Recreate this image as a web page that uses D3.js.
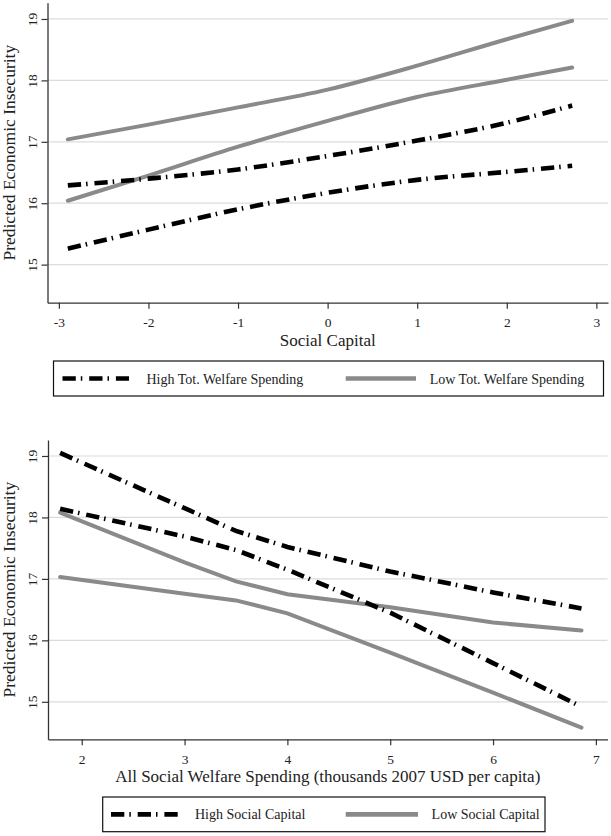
<!DOCTYPE html>
<html>
<head>
<meta charset="utf-8">
<script src="https://cdn.jsdelivr.net/npm/d3@7"></script>
<style>
  html, body { margin: 0; padding: 0; background: #fff; }
  svg { display: block; font-family: 'Liberation Serif', 'DejaVu Serif', serif; }
</style>
</head>
<body>
<svg id="chart"></svg>
<script>
// Panel 1: predicted insecurity by social capital
const socialCapital = [-2.9, -2, -1, 0, 1, 2, 2.73];
const highSpendA = [16.29, 16.40, 16.55, 16.77, 17.02, 17.31, 17.59];
const highSpendB = [15.26, 15.57, 15.90, 16.17, 16.38, 16.51, 16.61];
const lowSpendA = [17.04, 17.28, 17.56, 17.85, 18.24, 18.67, 18.97];
const lowSpendB = [16.04, 16.45, 16.92, 17.34, 17.73, 18.01, 18.21];
const capitalTicks = [-3, -2, -1, 0, 1, 2, 3];

// Panel 2: predicted insecurity by welfare spending
const welfareSpending = [1.79, 3, 3.5, 4, 5, 6, 6.86];
const highCapA = [19.05, 18.15, 17.78, 17.52, 17.12, 16.78, 16.52];
const highCapB = [18.14, 17.69, 17.47, 17.15, 16.45, 15.63, 14.92];
const lowCapA = [18.08, 17.27, 16.96, 16.75, 16.54, 16.29, 16.16];
const lowCapB = [17.03, 16.76, 16.65, 16.44, 15.80, 15.15, 14.58];
const spendingTicks = [2, 3, 4, 5, 6, 7];

const yTicks = [15, 16, 17, 18, 19];
const yTitle = 'Predicted Economic Insecurity';

const width = 611, height = 836;
const DASHDOT = '13.3,5,1.5,6.9';
const GRAY = '#8a8a8a';

const svg = d3.select('#chart')
  .attr('width', width)
  .attr('height', height)
  .attr('viewBox', [0, 0, width, height]);

svg.append('rect').attr('width', width).attr('height', height).attr('fill', '#fff');

// plain hyphen for negatives, like the original
const fmt = d => String(d);

function drawPanel({
  xs, black, gray, xTicks, xTitle, legend,
  left, right, top, bottom, xDomain, yDomain, curve, legendBox, legendKeys,
}) {
  const x = d3.scaleLinear(xDomain, [left, right]);
  const y = d3.scaleLinear(yDomain, [bottom, top]);
  const g = svg.append('g');

  // grid
  g.append('g')
    .selectAll('line')
    .data(yTicks)
    .join('line')
    .attr('x1', left).attr('x2', right)
    .attr('y1', d => y(d)).attr('y2', d => y(d))
    .attr('stroke', '#dcdcdc')
    .attr('stroke-width', 1.2);

  // x axis
  const gx = g.append('g')
    .attr('transform', `translate(0,${bottom})`)
    .call(d3.axisBottom(x).tickValues(xTicks).tickSize(6).tickSizeOuter(0).tickFormat(fmt));
  gx.select('.domain').attr('stroke', '#333').attr('stroke-width', 1.3);
  gx.selectAll('.tick line').attr('stroke', '#333').attr('stroke-width', 1.2);
  gx.selectAll('.tick text')
    .attr('y', 24.5).attr('dy', null)
    .attr('fill', '#222')
    .style('font-size', '13.5px')
    .style('font-family', "'Liberation Serif', serif");

  // y axis
  const gy = g.append('g')
    .attr('transform', `translate(${left},0)`)
    .call(d3.axisLeft(y).tickValues(yTicks).tickSize(6).tickSizeOuter(0).tickFormat(fmt));
  gy.select('.domain').attr('stroke', '#333').attr('stroke-width', 1.3);
  gy.selectAll('.tick line').attr('stroke', '#333').attr('stroke-width', 1.2);
  gy.selectAll('.tick text')
    .attr('x', 0).attr('dy', null)
    .attr('text-anchor', 'middle')
    .attr('transform', 'translate(-11,0) rotate(-90)')
    .attr('fill', '#222')
    .style('font-size', '13.5px')
    .style('font-family', "'Liberation Serif', serif");

  // axis titles
  g.append('text')
    .attr('transform', `translate(14.5,${(top + bottom) / 2}) rotate(-90)`)
    .attr('text-anchor', 'middle')
    .attr('fill', '#222')
    .style('font-size', '17.5px')
    .text(yTitle);

  g.append('text')
    .attr('x', (left + right) / 2)
    .attr('y', bottom + 43)
    .attr('text-anchor', 'middle')
    .attr('fill', '#222')
    .style('font-size', '17px')
    .text(xTitle);

  // lines
  const line = d3.line()
    .x((d, i) => x(xs[i]))
    .y(d => y(d))
    .curve(curve);

  g.append('g')
    .selectAll('path')
    .data(gray)
    .join('path')
    .attr('d', line)
    .attr('fill', 'none')
    .attr('stroke', GRAY)
    .attr('stroke-width', 4)
    .attr('stroke-linecap', 'round');

  g.append('g')
    .selectAll('path')
    .data(black)
    .join('path')
    .attr('d', line)
    .attr('fill', 'none')
    .attr('stroke', '#000')
    .attr('stroke-width', 4.6)
    .attr('stroke-dasharray', DASHDOT);

  // legend
  const lg = svg.append('g');
  lg.append('rect')
    .attr('x', legendBox[0]).attr('y', legendBox[1])
    .attr('width', legendBox[2]).attr('height', legendBox[3])
    .attr('fill', '#fff')
    .attr('stroke', '#111')
    .attr('stroke-width', 1.2);

  const cy = legendBox[1] + legendBox[3] / 2;
  const [k1, k2] = legendKeys;
  lg.append('line')
    .attr('x1', k1[0]).attr('x2', k1[1]).attr('y1', cy).attr('y2', cy)
    .attr('stroke', '#000').attr('stroke-width', 4.6)
    .attr('stroke-dasharray', DASHDOT);
  lg.append('line')
    .attr('x1', k2[0]).attr('x2', k2[1]).attr('y1', cy).attr('y2', cy)
    .attr('stroke', GRAY).attr('stroke-width', 4.6);
  lg.selectAll('text')
    .data([[k1[2], legend[0]], [k2[2], legend[1]]])
    .join('text')
    .attr('x', d => d[0])
    .attr('y', cy + 5)
    .attr('fill', '#222')
    .style('font-size', '14px')
    .text(d => d[1]);
}

drawPanel({
  xs: socialCapital,
  black: [highSpendA, highSpendB],
  gray: [lowSpendA, lowSpendB],
  xTicks: capitalTicks,
  xTitle: 'Social Capital',
  legend: ['High Tot. Welfare Spending', 'Low Tot. Welfare Spending'],
  left: 47.5, right: 608, top: 2.7, bottom: 302.7,
  xDomain: [-3.127, 3.13], yDomain: [14.38, 19.265],
  curve: d3.curveMonotoneX,
  legendBox: [53.5, 361, 550, 35],
  legendKeys: [[62.5, 129, 146.5], [345.7, 416, 429.7]],
});

drawPanel({
  xs: welfareSpending,
  black: [highCapA, highCapB],
  gray: [lowCapA, lowCapB],
  xTicks: spendingTicks,
  xTitle: 'All Social Welfare Spending (thousands 2007 USD per capita)',
  legend: ['High Social Capital', 'Low Social Capital'],
  left: 48, right: 607.5, top: 440, bottom: 739.3,
  xDomain: [1.672, 7.113], yDomain: [14.39, 19.26],
  curve: d3.curveLinear,
  legendBox: [102.7, 797, 442.3, 34.7],
  legendKeys: [[111, 178, 195], [345.7, 418, 431.6]],
});
</script>
</body>
</html>
